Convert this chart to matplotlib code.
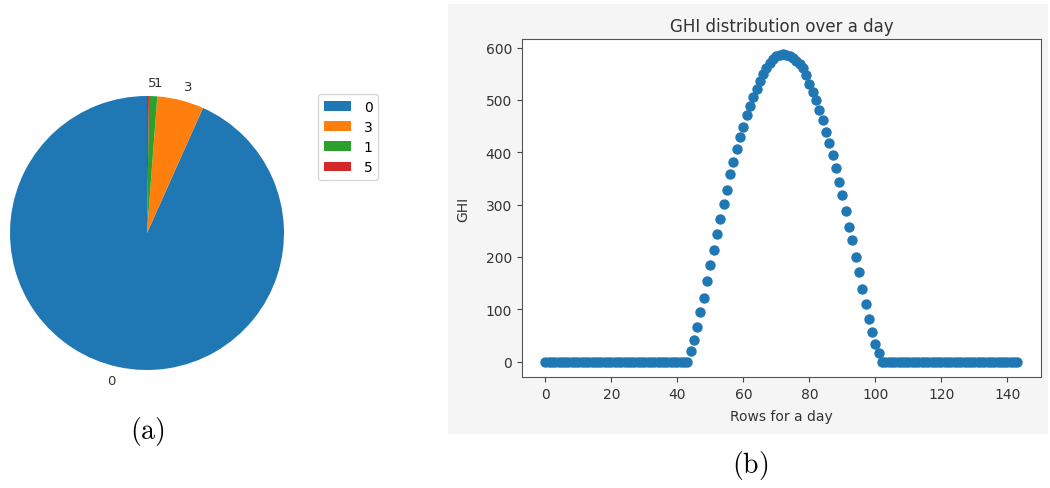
import numpy as np
import matplotlib
matplotlib.use('Agg')
import matplotlib.pyplot as plt
from matplotlib.patches import Rectangle

plt.rcParams['mathtext.fontset'] = 'cm'

# pie data (class counts)
pie_labels = ['0', '3', '1', '5']
pie_counts = [9330, 550, 97, 23]
pie_colors = ['#1f77b4', '#ff7f0e', '#2ca02c', '#d62728']

# GHI over one day, 144 rows
ghi_rise = [21, 41, 66, 94, 122, 154, 184, 213, 243, 272, 302, 328, 358, 382,
            406, 429, 449, 471, 489, 506, 521, 536, 550, 561, 571, 578, 583,
            586, 587]
ghi_fall = [586, 584, 580, 575, 569, 560, 547, 531, 515, 499, 480, 461, 439,
            417, 394, 369, 343, 318, 288, 257, 232, 200, 171, 139, 111, 82,
            57, 34, 16]
ghi = [0] * 44 + ghi_rise + ghi_fall + [0] * 42
rows = np.arange(len(ghi))

fig = plt.figure(figsize=(10.5, 4.89), dpi=100)

# light grey backdrop behind panel (b)
fig.patches.append(Rectangle((448 / 1050, 1 - 435 / 489), 600 / 1050, 430 / 489,
                             transform=fig.transFigure, facecolor='#f5f5f5',
                             edgecolor='none', zorder=-1))

# (a) pie
ax1 = fig.add_axes([0, 1 - 384 / 489, 300 / 1050, 300 / 489])
wedges, texts = ax1.pie(pie_counts, labels=pie_labels, colors=pie_colors,
                        startangle=90, textprops={'fontsize': 9.5, 'color': '#333333'})
ax1.set_xlim(-147 / 137, 153 / 137)
ax1.set_ylim(-150 / 137, 150 / 137)
fig.legend(wedges, pie_labels, loc='upper left', bbox_to_anchor=(311 / 1050, 1 - 88 / 489),
           fontsize=10, handlelength=2.0, borderpad=0.4, labelspacing=0.45,
           handletextpad=0.9)

# (b) scatter
ax2 = fig.add_axes([521.7 / 1050, 1 - 378 / 489, (1041 - 521.7) / 1050, (378 - 40) / 489])
ax2.set_zorder(2)
ax2.set_facecolor('white')
ax2.scatter(rows, ghi, s=42, color='#1f77b4')
ax2.set_title('GHI distribution over a day', fontsize=12, color='#333333')
ax2.set_xlabel('Rows for a day', fontsize=10, color='#333333', labelpad=6)
ax2.set_ylabel('GHI', fontsize=10, color='#333333', labelpad=11)
ax2.set_xticks([0, 20, 40, 60, 80, 100, 120, 140])
ax2.set_yticks([0, 100, 200, 300, 400, 500, 600])
ax2.tick_params(labelsize=10, colors='#444444', labelcolor='#333333')
for sp in ax2.spines.values():
    sp.set_color('#555555')

fig.text(147 / 1050, 1 - 432 / 489, r'$\mathrm{(a)}$', fontsize=20, ha='center', va='center')
fig.text(750 / 1050, 1 - 466 / 489, r'$\mathrm{(b)}$', fontsize=20, ha='center', va='center')

plt.savefig('out.png', dpi=100)
